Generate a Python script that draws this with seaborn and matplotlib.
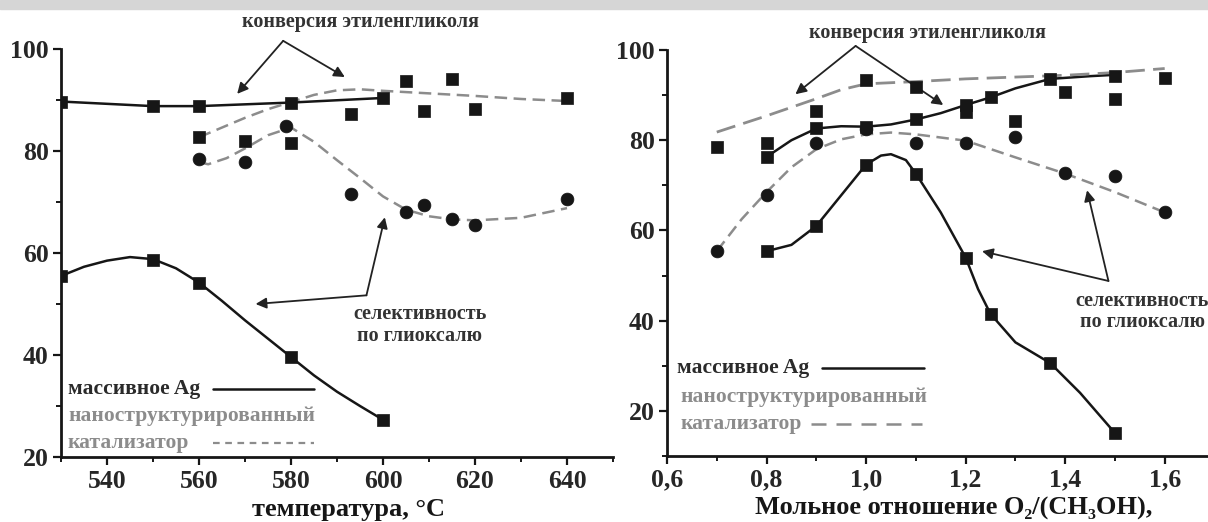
import matplotlib
matplotlib.use("Agg")
import matplotlib.pyplot as plt
import seaborn as sns
from matplotlib.patches import Rectangle
from matplotlib.ticker import MultipleLocator, FuncFormatter

# ---- left panel: temperature ----
t_mass = [530, 550, 560, 580, 600]
conv_mass = [89.7, 88.8, 88.8, 89.5, 90.4]
sel_mass = [55.5, 58.7, 54.2, 39.6, 27.3]

t_sel_mass_curve = [530, 535, 540, 545, 550, 555, 560, 565, 570, 575, 580, 585, 590, 595, 600]
sel_mass_curve = [55.5, 57.3, 58.5, 59.2, 58.8, 57.0, 54.2, 50.6, 46.8, 43.2, 39.6, 36.0, 32.8, 30.0, 27.3]

t_nano = [560, 570, 580, 593, 605, 609, 615, 620, 640]
conv_nano = [82.7, 82.0, 81.6, 87.3, 93.8, 87.8, 94.2, 88.3, 90.3]
t_nano_sel = [560, 570, 579, 593, 605, 609, 615, 620, 640]
sel_nano = [78.4, 77.8, 84.9, 71.6, 68.1, 69.5, 66.6, 65.5, 70.5]

t_conv_nano_curve = [560, 565, 570, 575, 580, 585, 590, 595, 600, 610, 620, 630, 640]
conv_nano_curve = [82.7, 84.6, 86.5, 88.2, 89.6, 91.0, 91.9, 92.1, 91.8, 91.3, 90.8, 90.2, 89.8]
t_sel_nano_curve = [560, 562, 566, 570, 575, 580, 585, 590, 595, 600, 605, 610, 615, 620, 630, 640]
sel_nano_curve = [77.8, 77.4, 78.6, 80.5, 83.1, 84.6, 81.8, 78.2, 74.7, 71.1, 68.5, 67.2, 66.6, 66.4, 66.9, 68.8]

# ---- right panel: O2/(CH3OH) ratio ----
r_mass = [0.8, 0.9, 1.0, 1.1, 1.2, 1.25, 1.37, 1.5]
conv_mass_r = [76.3, 82.6, 83.0, 84.6, 87.8, 89.5, 93.6, 94.3]
sel_mass_r = [55.4, 61.0, 74.6, 72.6, 54.0, 41.5, 30.6, 15.1]

r_conv_mass_curve = [0.8, 0.85, 0.9, 0.95, 1.0, 1.05, 1.1, 1.15, 1.2, 1.25, 1.3, 1.37, 1.45, 1.5]
conv_mass_r_curve = [76.3, 80.0, 82.6, 83.1, 83.0, 83.5, 84.6, 86.0, 87.8, 89.5, 91.5, 93.6, 94.2, 94.5]
r_sel_mass_curve = [0.8, 0.85, 0.9, 0.95, 1.0, 1.03, 1.05, 1.08, 1.1, 1.15, 1.2, 1.225, 1.25, 1.3, 1.37, 1.43, 1.5]
sel_mass_r_curve = [55.4, 56.8, 61.0, 67.8, 74.6, 76.6, 76.9, 75.6, 72.6, 64.0, 54.0, 47.0, 41.5, 35.2, 30.6, 24.0, 15.1]

r_nano = [0.7, 0.8, 0.9, 1.0, 1.1, 1.2, 1.3, 1.4, 1.5, 1.6]
conv_nano_r = [78.5, 79.4, 86.4, 93.4, 91.8, 86.2, 84.3, 90.6, 89.1, 93.9]
sel_nano_r = [55.4, 67.8, 79.4, 82.5, 79.4, 79.4, 80.7, 72.8, 72.1, 64.0]

r_conv_nano_curve = [0.7, 0.8, 0.9, 0.95, 1.0, 1.1, 1.2, 1.3, 1.4, 1.5, 1.6]
conv_nano_r_curve = [81.8, 85.4, 89.2, 91.2, 92.5, 93.0, 93.6, 94.0, 94.4, 95.0, 95.9]
r_sel_nano_curve = [0.7, 0.75, 0.8, 0.85, 0.9, 0.95, 1.0, 1.05, 1.1, 1.2, 1.3, 1.4, 1.5, 1.6]
sel_nano_r_curve = [55.4, 62.5, 68.5, 74.0, 78.0, 80.2, 81.3, 81.7, 81.3, 79.9, 76.2, 72.6, 68.5, 64.0]

sns.set_style("ticks")
plt.rcParams["font.family"] = ["Liberation Serif", "DejaVu Serif"]
plt.rcParams["font.weight"] = "bold"

DARK = "#161616"
GRAY = "#8c8c8c"
TXT = "#333333"

fig = plt.figure(figsize=(12.08, 5.22), dpi=100)
fig.patches.append(Rectangle((0, 1 - 9 / 522), 1, 9 / 522, transform=fig.transFigure,
                             color="#d6d6d6", zorder=0))

axL = fig.add_axes([61 / 1208, 65 / 522, 552 / 1208, 408 / 522])
axR = fig.add_axes([667 / 1208, 66 / 522, 541 / 1208, 406 / 522])


def style_axis(ax):
    sns.despine(ax=ax)
    for s in ("left", "bottom"):
        ax.spines[s].set_linewidth(2.0)
        ax.spines[s].set_color(DARK)
    ax.tick_params(which="major", length=6, width=1.6, color=DARK, labelsize=18.5,
                   pad=3, direction="out")
    ax.tick_params(which="minor", length=3.5, width=1.4, color=DARK, direction="out")
    for lab in ax.get_xticklabels() + ax.get_yticklabels():
        lab.set_fontweight("bold")
    ax.set_facecolor("white")


def line(ax, x, y, color, ls, lw=1.8, dashes=None):
    sns.lineplot(x=x, y=y, ax=ax, color=color, lw=lw, estimator=None, sort=False)
    ln = ax.lines[-1]
    ln.set_linestyle(ls)
    if dashes is not None:
        ln.set_dashes(dashes)


def pts(ax, x, y, marker, s=85):
    sns.scatterplot(x=x, y=y, ax=ax, marker=marker, s=s, color=DARK, edgecolor=DARK,
                    linewidth=0.5, zorder=5)


# ---------- left ----------
line(axL, t_mass, conv_mass, DARK, "-")
line(axL, t_sel_mass_curve, sel_mass_curve, DARK, "-")
line(axL, t_conv_nano_curve, conv_nano_curve, GRAY, "--", dashes=(5, 2.6))
line(axL, t_sel_nano_curve, sel_nano_curve, GRAY, "--", dashes=(5, 2.6))
pts(axL, t_mass, conv_mass, "s")
pts(axL, t_mass, sel_mass, "s")
pts(axL, t_nano, conv_nano, "s")
pts(axL, t_nano_sel, sel_nano, "o")

axL.set_xlim(530, 650)
axL.set_ylim(20, 100)
axL.xaxis.set_minor_locator(MultipleLocator(10))
axL.yaxis.set_major_locator(MultipleLocator(20))
axL.yaxis.set_minor_locator(MultipleLocator(10))
axL.set_xticks([540, 560, 580, 600, 620, 640])
axL.set_xlabel("температура, °C", fontsize=19, fontweight="bold", color=DARK)
axL.xaxis.set_label_coords(0.52, -0.1)
axL.set_ylabel("")
style_axis(axL)

# annotations left
axL.text(595, 105.2, "конверсия этиленгликоля", ha="center", va="center",
         fontsize=14.5, color=TXT, clip_on=False)
arrow_kw = dict(arrowstyle="-|>", color="#222222", lw=1.3, mutation_scale=16,
                shrinkA=0, shrinkB=0)
for tgt in [(568.3, 91.2), (591.7, 94.5)]:
    axL.annotate("", xy=tgt, xytext=(578.3, 101.6), arrowprops=arrow_kw,
                 annotation_clip=False)
for tgt in [(600.4, 67.0), (572.3, 50.0)]:
    axL.annotate("", xy=tgt, xytext=(596.4, 51.7), arrowprops=arrow_kw,
                 annotation_clip=False)
axL.text(608, 48.1, "селективность", ha="center", va="center", fontsize=14.5, color=TXT)
axL.text(608, 43.8, "по глиоксалю", ha="center", va="center", fontsize=14.5, color=TXT)

axL.text(531.5, 33.3, "массивное Ag", ha="left", va="center", fontsize=15.5, color="#2a2a2a")
axL.plot([563, 585], [33.3, 33.3], color=DARK, lw=1.8)
axL.text(531.5, 28.1, "наноструктурированный", ha="left", va="center", fontsize=15.5, color=GRAY)
axL.text(531.5, 22.8, "катализатор", ha="left", va="center", fontsize=15.5, color=GRAY)
axL.plot([563, 585], [22.8, 22.8], color=GRAY, lw=1.6, dashes=(3, 2.5))

# ---------- right ----------
line(axR, r_conv_mass_curve, conv_mass_r_curve, DARK, "-")
line(axR, r_sel_mass_curve, sel_mass_r_curve, DARK, "-")
line(axR, r_conv_nano_curve, conv_nano_r_curve, GRAY, "--", lw=2.0, dashes=(7, 3))
line(axR, r_sel_nano_curve, sel_nano_r_curve, GRAY, "--", dashes=(5, 2.6))
pts(axR, r_mass, conv_mass_r, "s")
pts(axR, r_mass, sel_mass_r, "s")
pts(axR, r_nano, conv_nano_r, "s")
pts(axR, r_nano, sel_nano_r, "o")

axR.set_xlim(0.6, 1.687)
axR.set_ylim(10, 100)
axR.set_xticks([0.6, 0.8, 1.0, 1.2, 1.4, 1.6])
axR.xaxis.set_minor_locator(MultipleLocator(0.1))
axR.set_yticks([20, 40, 60, 80, 100])
axR.yaxis.set_minor_locator(MultipleLocator(10))
axR.xaxis.set_major_formatter(FuncFormatter(lambda v, p: f"{v:.1f}".replace(".", ",")))
axR.set_xlabel("Мольное отношение O₂/(CH₃OH),", fontsize=19, fontweight="bold", color=DARK)
axR.xaxis.set_label_coords(0.53, -0.1)
axR.set_ylabel("")
style_axis(axR)

axR.text(1.123, 103.8, "конверсия этиленгликоля", ha="center", va="center",
         fontsize=14.5, color=TXT, clip_on=False)
for tgt in [(0.858, 90.2), (1.155, 87.8)]:
    axR.annotate("", xy=tgt, xytext=(0.979, 100.9), arrowprops=arrow_kw,
                 annotation_clip=False)
for tgt in [(1.444, 68.9), (1.233, 55.4)]:
    axR.annotate("", xy=tgt, xytext=(1.487, 48.8), arrowprops=arrow_kw,
                 annotation_clip=False)
axR.text(1.555, 44.3, "селективность", ha="center", va="center", fontsize=14.5,
         color=TXT, clip_on=False)
axR.text(1.555, 39.6, "по глиоксалю", ha="center", va="center", fontsize=14.5,
         color=TXT, clip_on=False)

axR.text(0.62, 29.5, "массивное Ag", ha="left", va="center", fontsize=15.5, color="#2a2a2a")
axR.plot([0.912, 1.116], [29.5, 29.5], color=DARK, lw=1.8)
axR.text(0.627, 23.0, "наноструктурированный", ha="left", va="center", fontsize=15.5, color=GRAY)
axR.text(0.627, 17.0, "катализатор", ha="left", va="center", fontsize=15.5, color=GRAY)
axR.plot([0.889, 1.112], [17.0, 17.0], color=GRAY, lw=1.8, dashes=(6, 4))

fig.savefig("out.png", dpi=100, facecolor="white")
